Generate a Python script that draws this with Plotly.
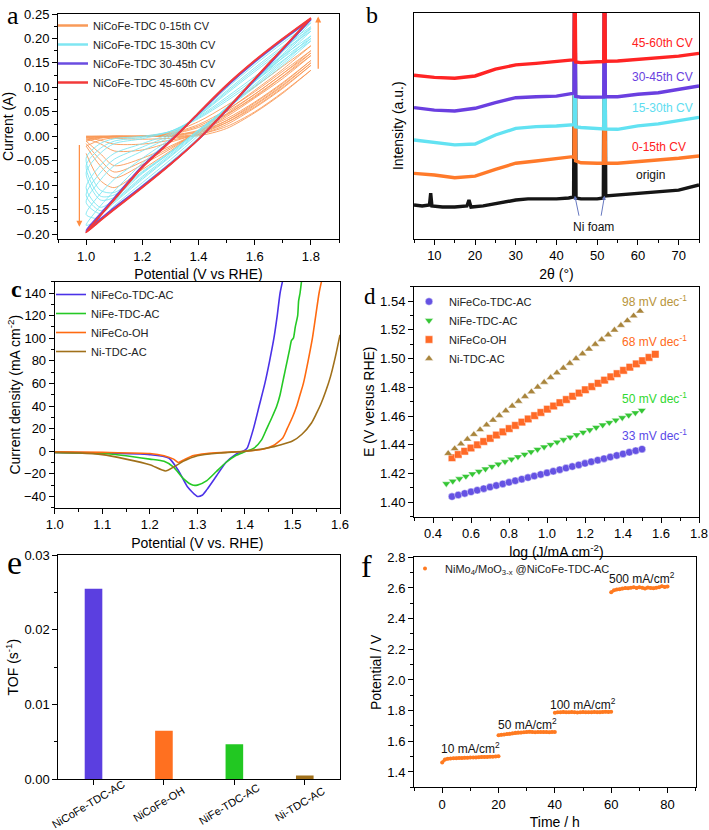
import plotly.graph_objects as go

W, H = 709, 830

# ================= DATA =================
# ---- panel a: CV cycles (current in A) ----
cv_E_fwd = [1.00, 1.05, 1.10, 1.20, 1.30, 1.40, 1.50, 1.60, 1.70, 1.80]
cv_E_back = [1.80, 1.70, 1.60, 1.50, 1.40, 1.30, 1.20, 1.10, 1.05, 1.00]

cv_0_15_fwd = [
    [0.000, 0.000, 0.000, 0.000, 0.000, 0.004, 0.020, 0.050, 0.090, 0.135],
    [-0.001, 0.000, 0.000, 0.000, 0.001, 0.008, 0.028, 0.060, 0.100, 0.145],
    [-0.002, -0.001, 0.000, 0.000, 0.002, 0.010, 0.032, 0.065, 0.105, 0.150],
    [-0.003, -0.001, 0.000, 0.000, 0.002, 0.012, 0.036, 0.070, 0.110, 0.155],
    [-0.006, -0.002, 0.000, 0.000, 0.004, 0.018, 0.045, 0.080, 0.122, 0.165],
    [-0.008, -0.003, -0.001, 0.000, 0.005, 0.021, 0.050, 0.086, 0.128, 0.170],
    [-0.010, -0.004, -0.001, 0.000, 0.006, 0.024, 0.054, 0.091, 0.133, 0.175],
    [-0.020, -0.008, -0.003, 0.000, 0.008, 0.030, 0.063, 0.101, 0.143, 0.185],
]
cv_0_15_back = [
    [0.135, 0.088, 0.048, 0.016, 0.001, 0.000, 0.000, 0.000, 0.000, 0.000],
    [0.145, 0.098, 0.058, 0.024, 0.003, -0.004, -0.006, -0.004, -0.002, -0.001],
    [0.150, 0.103, 0.063, 0.028, 0.004, -0.008, -0.016, -0.016, -0.008, -0.003],
    [0.155, 0.108, 0.068, 0.032, 0.006, -0.012, -0.028, -0.030, -0.015, -0.005],
    [0.165, 0.118, 0.078, 0.040, 0.008, -0.020, -0.045, -0.060, -0.035, -0.010],
    [0.170, 0.123, 0.082, 0.043, 0.009, -0.023, -0.052, -0.073, -0.048, -0.015],
    [0.175, 0.128, 0.086, 0.046, 0.010, -0.026, -0.058, -0.085, -0.060, -0.020],
    [0.185, 0.137, 0.094, 0.052, 0.012, -0.030, -0.068, -0.105, -0.090, -0.035],
]
cv_15_30_fwd = [
    [-0.045, -0.015, -0.005, 0.000, 0.010, 0.036, 0.072, 0.112, 0.155, 0.195],
    [-0.060, -0.025, -0.010, -0.002, 0.010, 0.038, 0.076, 0.117, 0.160, 0.200],
    [-0.075, -0.035, -0.015, -0.005, 0.010, 0.040, 0.080, 0.122, 0.165, 0.205],
    [-0.105, -0.060, -0.035, -0.015, 0.006, 0.042, 0.087, 0.132, 0.175, 0.215],
    [-0.120, -0.075, -0.047, -0.022, 0.003, 0.043, 0.090, 0.136, 0.180, 0.220],
    [-0.135, -0.090, -0.060, -0.030, 0.000, 0.044, 0.093, 0.140, 0.184, 0.224],
    [-0.160, -0.118, -0.088, -0.045, -0.005, 0.045, 0.098, 0.146, 0.191, 0.232],
    [-0.182, -0.143, -0.112, -0.055, -0.008, 0.046, 0.101, 0.150, 0.195, 0.237],
]
cv_15_30_back = [
    [0.195, 0.145, 0.100, 0.056, 0.013, -0.032, -0.072, -0.115, -0.110, -0.045],
    [0.200, 0.149, 0.103, 0.057, 0.012, -0.033, -0.074, -0.120, -0.122, -0.060],
    [0.205, 0.153, 0.106, 0.058, 0.012, -0.034, -0.076, -0.125, -0.130, -0.075],
    [0.215, 0.161, 0.111, 0.059, 0.010, -0.037, -0.082, -0.130, -0.145, -0.105],
    [0.220, 0.165, 0.113, 0.059, 0.008, -0.040, -0.085, -0.133, -0.152, -0.120],
    [0.224, 0.168, 0.114, 0.058, 0.006, -0.042, -0.088, -0.136, -0.158, -0.135],
    [0.232, 0.173, 0.116, 0.057, 0.002, -0.048, -0.095, -0.142, -0.168, -0.160],
    [0.237, 0.176, 0.116, 0.055, -0.003, -0.053, -0.100, -0.146, -0.170, -0.182],
]
cv_30_45_fwd = [
    [-0.192, -0.159, -0.126, -0.061, -0.009, 0.046, 0.102, 0.152, 0.197, 0.239],
    [-0.195, -0.161, -0.128, -0.062, -0.010, 0.047, 0.103, 0.153, 0.198, 0.240],
]
cv_30_45_back = [
    [0.239, 0.177, 0.115, 0.053, -0.006, -0.056, -0.102, -0.146, -0.169, -0.192],
    [0.240, 0.178, 0.116, 0.054, -0.006, -0.057, -0.103, -0.148, -0.171, -0.195],
]
cv_45_60_fwd = [
    [-0.196, -0.162, -0.129, -0.063, -0.010, 0.047, 0.104, 0.154, 0.199, 0.241],
    [-0.197, -0.163, -0.130, -0.064, -0.011, 0.048, 0.105, 0.155, 0.200, 0.242],
]
cv_45_60_back = [
    [0.241, 0.179, 0.117, 0.054, -0.006, -0.057, -0.104, -0.149, -0.172, -0.196],
    [0.242, 0.180, 0.118, 0.055, -0.006, -0.058, -0.105, -0.150, -0.173, -0.197],
]

# ---- panel b: XRD (offset intensities, a.u.) ----
xrd_2theta = [5, 10, 15, 20, 25, 30, 35, 40, 44, 44.3, 44.5, 44.7, 46, 50, 51.6, 51.8, 52.0, 55, 60, 65, 70, 75]
xrd_0_15 = [28.9, 28.2, 27.0, 27.7, 30.7, 33.4, 34.4, 35.6, 36.3, 36.0, 130, 34.5, 33.6, 33.4, 33.4, 130, 33.5, 33.4, 34.1, 35.1, 35.6, 36.6]
xrd_15_30 = [43.7, 42.5, 41.5, 41.9, 45.9, 48.8, 49.6, 49.9, 50.3, 50.5, 130, 49.5, 49.2, 48.8, 48.6, 130, 48.5, 48.4, 49.9, 50.8, 52.2, 53.7]
xrd_30_45 = [58.0, 56.9, 56.5, 57.7, 60.2, 62.4, 62.8, 63.1, 64.3, 64.5, 130, 63.0, 62.6, 62.6, 62.7, 130, 62.8, 62.8, 63.9, 64.6, 66.1, 67.6]
xrd_45_60 = [72.3, 71.4, 71.0, 72.0, 75.0, 76.9, 77.6, 78.3, 79.1, 79.3, 130, 78.2, 77.9, 78.3, 78.4, 130, 78.5, 78.6, 79.4, 80.1, 80.8, 82.0]
xrd_origin_2theta = [5, 7, 8.8, 9.1, 9.4, 12, 15, 18, 18.5, 19, 22, 25, 28, 30, 33, 36, 40, 43, 44.2, 44.5, 44.8,
                     46, 50, 51.5, 51.8, 52.1, 55, 60, 65, 70, 75]
xrd_origin = [14.9, 14.5, 14.9, 20.2, 14.5, 14.0, 14.0, 14.5, 17.1, 14.0, 14.5, 15.4, 16.2, 17.1, 17.6, 17.6, 17.6, 18.0,
              18.5, 130, 18.0, 17.6, 17.6, 18.0, 130, 18.9, 19.3, 19.8, 20.7, 21.5, 23.8]

# ---- panel c: LSV ----
lsv_tdc_E = [1.00, 1.10, 1.20, 1.24, 1.26, 1.28, 1.30, 1.31, 1.32, 1.34, 1.36, 1.38, 1.40, 1.405, 1.418, 1.43,
             1.442, 1.452, 1.461, 1.468, 1.474, 1.479]
lsv_tdc_j = [-1, -1.5, -3, -6, -17, -32, -40, -39, -34, -22, -10, -3, 1, 3, 20, 40, 60, 80, 100, 120, 140, 150]
lsv_nife_E = [1.00, 1.10, 1.15, 1.20, 1.23, 1.25, 1.27, 1.29, 1.30, 1.32, 1.34, 1.36, 1.38, 1.40, 1.42, 1.435,
              1.446, 1.457, 1.467, 1.474, 1.479, 1.484, 1.489, 1.494, 1.498, 1.502, 1.506, 1.511, 1.513, 1.516, 1.519]
lsv_nife_j = [-1, -2, -4, -7, -9, -14, -24, -30, -30, -26, -18, -10, -4, -0.5, 3, 10, 20, 30, 40, 50, 60, 70, 80,
              90, 98, 100, 110, 120, 133, 140, 150]
lsv_oh_E = [1.00, 1.10, 1.20, 1.23, 1.25, 1.26, 1.27, 1.29, 1.32, 1.36, 1.40, 1.44, 1.46, 1.48, 1.489, 1.50, 1.509,
            1.516, 1.523, 1.533, 1.542, 1.549, 1.556, 1.561]
lsv_oh_j = [-0.5, -1, -2, -4, -7, -10, -8, -4, -2, -1, 0, 2, 5, 12, 20, 30, 40, 50, 60, 80, 100, 120, 140, 150]
lsv_ni_E = [1.00, 1.05, 1.10, 1.15, 1.20, 1.233, 1.25, 1.27, 1.30, 1.35, 1.40, 1.45, 1.50, 1.52, 1.54, 1.55, 1.56,
            1.57, 1.58, 1.59, 1.60]
lsv_ni_j = [-1, -1.5, -3, -7, -12, -17.5, -14, -9, -4, -1.5, 0, 3, 9, 15, 25, 33, 42, 53, 66, 83, 103]

# ---- panel d: Tafel ----
tafel_tdc_x = [0.500, 0.533, 0.567, 0.600, 0.633, 0.667, 0.700, 0.733, 0.767, 0.800, 0.833, 0.867, 0.900, 0.933,
               0.967, 1.000, 1.033, 1.067, 1.100, 1.133, 1.167, 1.200, 1.233, 1.267, 1.300, 1.333, 1.367, 1.400,
               1.433, 1.467, 1.500]
tafel_tdc_y = [1.4040, 1.4051, 1.4062, 1.4073, 1.4084, 1.4095, 1.4106, 1.4117, 1.4128, 1.4139, 1.4150, 1.4161,
               1.4172, 1.4183, 1.4194, 1.4205, 1.4216, 1.4227, 1.4238, 1.4249, 1.4260, 1.4271, 1.4282, 1.4293,
               1.4304, 1.4315, 1.4326, 1.4337, 1.4348, 1.4359, 1.4370]
tafel_nife_x = [0.470, 0.504, 0.539, 0.573, 0.607, 0.642, 0.676, 0.710, 0.744, 0.779, 0.813, 0.847, 0.882, 0.916,
                0.950, 0.985, 1.019, 1.053, 1.087, 1.122, 1.156, 1.190, 1.225, 1.259, 1.293, 1.328, 1.362, 1.396,
                1.430, 1.465, 1.499]
tafel_nife_y = [1.4130, 1.4147, 1.4164, 1.4181, 1.4198, 1.4215, 1.4232, 1.4249, 1.4266, 1.4283, 1.4300, 1.4317,
                1.4334, 1.4351, 1.4368, 1.4385, 1.4402, 1.4419, 1.4436, 1.4453, 1.4470, 1.4487, 1.4504, 1.4521,
                1.4538, 1.4555, 1.4572, 1.4589, 1.4606, 1.4623, 1.4640]
tafel_oh_x = [0.500, 0.533, 0.567, 0.600, 0.634, 0.667, 0.701, 0.734, 0.768, 0.801, 0.834, 0.868, 0.901, 0.935,
              0.968, 1.002, 1.035, 1.068, 1.102, 1.135, 1.169, 1.202, 1.236, 1.269, 1.303, 1.336, 1.369, 1.403,
              1.436, 1.470, 1.503, 1.537, 1.570]
tafel_oh_y = [1.4310, 1.4333, 1.4355, 1.4378, 1.4400, 1.4423, 1.4445, 1.4468, 1.4490, 1.4513, 1.4535, 1.4558,
              1.4580, 1.4603, 1.4625, 1.4648, 1.4670, 1.4693, 1.4715, 1.4738, 1.4760, 1.4783, 1.4805, 1.4828,
              1.4850, 1.4873, 1.4895, 1.4918, 1.4940, 1.4963, 1.4985, 1.5008, 1.5030]
tafel_ni_x = [0.480, 0.514, 0.547, 0.581, 0.615, 0.648, 0.682, 0.716, 0.749, 0.783, 0.817, 0.850, 0.884, 0.918,
              0.951, 0.985, 1.019, 1.052, 1.086, 1.120, 1.153, 1.187, 1.221, 1.254, 1.288, 1.322, 1.355, 1.389,
              1.423, 1.456, 1.490]
tafel_ni_y = [1.4340, 1.4373, 1.4406, 1.4439, 1.4472, 1.4505, 1.4538, 1.4571, 1.4604, 1.4637, 1.4670, 1.4703,
              1.4736, 1.4769, 1.4802, 1.4835, 1.4868, 1.4901, 1.4934, 1.4967, 1.5000, 1.5033, 1.5066, 1.5099,
              1.5132, 1.5165, 1.5198, 1.5231, 1.5264, 1.5297, 1.5330]
tafel_slopes = ["98 mV dec<sup>-1</sup>", "68 mV dec<sup>-1</sup>", "50 mV dec<sup>-1</sup>", "33 mV dec<sup>-1</sup>"]

# ---- panel e: TOF ----
tof_categories = ["NiCoFe-TDC-AC", "NiCoFe-OH", "NiFe-TDC-AC", "Ni-TDC-AC"]
tof_values = [0.0255, 0.0065, 0.0047, 0.0005]

# ---- panel f: stability ----
stab_t1 = [0, 1, 2, 3, 4, 5, 6, 7, 8, 9, 10, 11, 12, 13, 14, 15, 16, 17, 18, 19, 20]
stab_v1 = [1.462, 1.482, 1.486, 1.488, 1.489, 1.490, 1.491, 1.491, 1.492, 1.493, 1.494, 1.494, 1.495, 1.496, 1.497,
           1.497, 1.498, 1.499, 1.500, 1.501, 1.502]
stab_t2 = [20, 21, 22, 23, 24, 25, 26, 27, 28, 29, 30, 31, 32, 33, 34, 35, 36, 37, 38, 39, 40]
stab_v2 = [1.640, 1.642, 1.645, 1.647, 1.650, 1.653, 1.655, 1.657, 1.658, 1.659, 1.661, 1.662, 1.660, 1.659, 1.660,
           1.661, 1.660, 1.660, 1.659, 1.660, 1.660]
stab_t3 = [40, 41, 42, 43, 44, 45, 46, 47, 48, 49, 50, 51, 52, 53, 54, 55, 56, 57, 58, 59, 60]
stab_v3 = [1.787, 1.790, 1.790, 1.791, 1.789, 1.790, 1.791, 1.790, 1.788, 1.790, 1.791, 1.790, 1.789, 1.790, 1.791,
           1.790, 1.790, 1.791, 1.792, 1.791, 1.793]
stab_t4 = [60, 61, 62, 63, 64, 65, 66, 67, 68, 69, 70, 71, 72, 73, 74, 75, 76, 77, 78, 79, 80]
stab_v4 = [2.572, 2.585, 2.590, 2.592, 2.597, 2.600, 2.598, 2.602, 2.604, 2.600, 2.605, 2.601, 2.596, 2.603, 2.600,
           2.598, 2.602, 2.604, 2.612, 2.607, 2.610]
stab_labels = ["10 mA/cm<sup>2</sup>", "50 mA/cm<sup>2</sup>", "100 mA/cm<sup>2</sup>", "500 mA/cm<sup>2</sup>"]

# ================= FIGURE =================
FONT = "Arial, Liberation Sans, Helvetica, sans-serif"
SERIF = "Times New Roman, Liberation Serif, serif"

fig = go.Figure()


def px_dom(x0, x1, y0, y1):
    return [x0 / W, x1 / W], [1 - y1 / H, 1 - y0 / H]


# ---- panel a ----
groups_a = [
    ("NiCoFe-TDC 0-15th CV", "#F99A58", cv_0_15_fwd, cv_0_15_back, 0.9),
    ("NiCoFe-TDC 15-30th CV", "#7FE6F2", cv_15_30_fwd, cv_15_30_back, 0.9),
    ("NiCoFe-TDC 30-45th CV", "#6A4CE0", cv_30_45_fwd, cv_30_45_back, 1.6),
    ("NiCoFe-TDC 45-60th CV", "#F23A3A", cv_45_60_fwd, cv_45_60_back, 1.6),
]
for name, col, fwds, backs, lw in groups_a:
    for f, b in zip(fwds, backs):
        fig.add_trace(go.Scatter(x=cv_E_fwd + cv_E_back, y=f + b, mode="lines",
                                 line=dict(color=col, width=lw, shape="spline", smoothing=0.8),
                                 xaxis="x", yaxis="y", showlegend=False, hoverinfo="skip"))
for name, col, fwds, backs, lw in groups_a:
    fig.add_trace(go.Scatter(x=[None], y=[None], mode="lines", name=name,
                             line=dict(color=col, width=2.5), xaxis="x", yaxis="y",
                             legend="legend"))

# ---- panel b ----
xrd_sets = [
    ("origin", "#151515", xrd_origin_2theta, xrd_origin),
    ("0-15th CV", "#FF7A2A", xrd_2theta, xrd_0_15),
    ("15-30th CV", "#62E2F2", xrd_2theta, xrd_15_30),
    ("30-45th CV", "#6A3FE0", xrd_2theta, xrd_30_45),
    ("45-60th CV", "#FF2424", xrd_2theta, xrd_45_60),
]
for name, col, xs, ys in xrd_sets:
    fig.add_trace(go.Scatter(x=xs, y=ys, mode="lines", line=dict(color=col, width=3.4),
                             xaxis="x2", yaxis="y2", showlegend=False, name=name))

# ---- panel c ----
lsv_sets = [
    ("NiFeCo-TDC-AC", "#4B32E8", lsv_tdc_E, lsv_tdc_j),
    ("NiFe-TDC-AC", "#25C925", lsv_nife_E, lsv_nife_j),
    ("NiFeCo-OH", "#FF6A10", lsv_oh_E, lsv_oh_j),
    ("Ni-TDC-AC", "#A0701A", lsv_ni_E, lsv_ni_j),
]
for name, col, xs, ys in lsv_sets:
    fig.add_trace(go.Scatter(x=xs, y=ys, mode="lines", name=name,
                             line=dict(color=col, width=1.6, shape="spline", smoothing=0.6),
                             xaxis="x3", yaxis="y3", legend="legend2"))

# ---- panel d ----
tafel_sets = [
    ("NiFeCo-TDC-AC", "#5540E0", "circle", tafel_tdc_x, tafel_tdc_y),
    ("NiFe-TDC-AC", "#20C020", "triangle-down", tafel_nife_x, tafel_nife_y),
    ("NiFeCo-OH", "#FF5A10", "square", tafel_oh_x, tafel_oh_y),
    ("Ni-TDC-AC", "#A07828", "triangle-up", tafel_ni_x, tafel_ni_y),
]
for name, col, sym, xs, ys in tafel_sets:
    fig.add_trace(go.Scatter(x=xs, y=ys, mode="markers", name=name,
                             marker=dict(symbol=sym, size=7.5, color=col, opacity=0.9,
                                         line=dict(color="rgba(255,255,255,0.6)", width=0.8)),
                             xaxis="x4", yaxis="y4", legend="legend3"))
slope_cols = ["#B8943A", "#FF6A20", "#30D830", "#5A4AE8"]
slope_y = [1.5400, 1.5122, 1.4727, 1.4468]
for txt, c, yv in zip(tafel_slopes, slope_cols, slope_y):
    fig.add_annotation(x=1.746, y=yv, xref="x4", yref="y4", text=txt, showarrow=False,
                       xanchor="right", yanchor="middle", font=dict(family=FONT, size=12, color=c))

# ---- panel e ----
fig.add_trace(go.Bar(x=tof_categories, y=tof_values, width=0.25,
                     marker=dict(color=["#5B3FE0", "#FF7020", "#22C822", "#A0701A"], line=dict(width=0)),
                     xaxis="x5", yaxis="y5", showlegend=False))
# rotated category labels (centred under their ticks, as in the original)
for cat in tof_categories:
    fig.add_annotation(x=cat, y=1 - 804 / H, xref="x5", yref="paper", text=cat, showarrow=False,
                       textangle=-31, xshift=-5, xanchor="center", yanchor="middle",
                       font=dict(family=FONT, size=11, color="black"))

# ---- panel f ----
stab_t = stab_t1 + [None] + stab_t2 + [None] + stab_t3 + [None] + stab_t4
stab_v = stab_v1 + [None] + stab_v2 + [None] + stab_v3 + [None] + stab_v4
fig.add_trace(go.Scatter(x=stab_t, y=stab_v, mode="lines", line=dict(color="#FF8A30", width=3),
                         xaxis="x6", yaxis="y6", showlegend=False, hoverinfo="skip"))
fig.add_trace(go.Scatter(x=stab_t, y=stab_v, mode="markers",
                         name="NiMo<sub>4</sub>/MoO<sub>3-x</sub> @NiCoFe-TDC-AC",
                         marker=dict(color="#FF7A20", size=4),
                         xaxis="x6", yaxis="y6", legend="legend4"))
lab_x = [10, 30.2, 50, 70.9]
lab_y = [1.557, 1.715, 1.846, 2.666]
for txt, xv, yv in zip(stab_labels, lab_x, lab_y):
    fig.add_annotation(x=xv, y=yv, xref="x6", yref="y6", text=txt, showarrow=False,
                       font=dict(family=FONT, size=12, color="#111"))


# ---- axes ----
def axis(dom, anchor, rng, title, dtick=None, tick0=None, fmt=None, minor_dtick=None,
         standoff=6, showticklabels=True, ticks="outside", **kw):
    d = dict(domain=dom, anchor=anchor, range=rng, showline=True, linecolor="black", linewidth=1,
             mirror=True, ticks=ticks, ticklen=5, tickwidth=1, tickcolor="black", showgrid=False,
             zeroline=False, automargin=False, tickfont=dict(family=FONT, size=13, color="black"),
             title=dict(text=title, font=dict(family=FONT, size=14, color="black"), standoff=standoff),
             showticklabels=showticklabels)
    if dtick is not None:
        d["dtick"] = dtick
        d["tickmode"] = "linear"
    if tick0 is not None:
        d["tick0"] = tick0
    if fmt:
        d["tickformat"] = fmt
    if minor_dtick is not None:
        d["minor"] = dict(dtick=minor_dtick, ticks="outside", ticklen=3, tickcolor="black", showgrid=False)
    d.update(kw)
    return d


xa, ya = px_dom(58, 339, 14, 239)
xb, yb = px_dom(414, 699, 12.7, 238.7)
xc, yc = px_dom(54.7, 340, 281.7, 507.7)
xd, yd = px_dom(414, 699, 286.7, 516.7)
xe, ye = px_dom(58.3, 340, 555, 779.3)
xf, yf = px_dom(414, 695.7, 557.3, 787.3)

LEGFONT = dict(family=FONT, size=11, color="#222")
layout = dict(
    width=W, height=H, margin=dict(l=0, r=0, t=0, b=0, autoexpand=False),
    template="none",
    paper_bgcolor="white", plot_bgcolor="white",
    font=dict(family=FONT, color="black"),
    xaxis=axis(xa, "y", [0.9, 1.9], "Potential (V vs RHE)", 0.2, 1.0, ".1f", 0.1),
    yaxis=axis(ya, "x", [-0.21, 0.25], "Current (A)", 0.05, -0.2, ".2f", 0.025, standoff=0),
    xaxis2=axis(xb, "y2", [5, 75], "2θ (°)", 10, 10, None, 5),
    yaxis2=axis(yb, "x2", [0, 100], "Intensity (a.u.)", showticklabels=False, ticks="", standoff=6),
    xaxis3=axis(xc, "y3", [1.0, 1.6], "Potential (V vs. RHE)", 0.1, 1.0, ".1f", 0.05),
    yaxis3=axis(yc, "x3", [-50, 150], "Current density (mA cm<sup>-2</sup>)", 20, -40, None, 10, standoff=0),
    xaxis4=axis(xd, "y4", [0.3, 1.8], "log (J/mA cm<sup>-2</sup>)", 0.2, 0.4, ".1f", 0.1),
    yaxis4=axis(yd, "x4", [1.39, 1.55], "E (V versus RHE)", 0.02, 1.4, ".2f", 0.01, standoff=2),
    xaxis5=dict(domain=xe, anchor="y5", range=[-0.5, 3.5], type="category", showline=True,
                linecolor="black", linewidth=1, mirror=True, ticks="outside", ticklen=5,
                tickcolor="black", showgrid=False, zeroline=False, automargin=False,
                showticklabels=False),
    yaxis5=axis(ye, "x5", [0, 0.03], "TOF (s<sup>-1</sup>)", 0.01, 0, ".2f", 0.005, standoff=2),
    xaxis6=axis(xf, "y6", [-10, 90], "Time / h", 20, 0, None, 10),
    yaxis6=axis(yf, "x6", [1.3, 2.8], "Potential / V", 0.2, 1.4, ".1f", 0.1, standoff=2),
    legend=dict(x=53 / W, y=1 - 11 / H, xanchor="left", yanchor="top", bgcolor="rgba(0,0,0,0)",
                font=LEGFONT, itemwidth=30),
    legend2=dict(x=51 / W, y=1 - 280 / H, xanchor="left", yanchor="top", bgcolor="rgba(0,0,0,0)",
                 font=LEGFONT, itemwidth=30),
    legend3=dict(x=409 / W, y=1 - 287 / H, xanchor="left", yanchor="top", bgcolor="rgba(0,0,0,0)",
                 font=LEGFONT, itemwidth=30),
    legend4=dict(x=405 / W, y=1 - 554 / H, xanchor="left", yanchor="top", bgcolor="rgba(0,0,0,0)",
                 font=LEGFONT, itemwidth=30),
)
fig.update_layout(**layout)

# panel a arrows
fig.add_annotation(x=1.826, y=0.245, ax=1.826, ay=0.135, xref="x", yref="y", axref="x", ayref="y",
                   showarrow=True, arrowhead=2, arrowsize=1, arrowwidth=1.2, arrowcolor="#FF8C40", text="")
fig.add_annotation(x=0.976, y=-0.185, ax=0.976, ay=-0.015, xref="x", yref="y", axref="x", ayref="y",
                   showarrow=True, arrowhead=2, arrowsize=1, arrowwidth=1.2, arrowcolor="#FF8C40", text="")

# panel b labels
b_labels = [("45-60th CV", "#FF2020", 74.0, 86.6, "right"),
            ("30-45th CV", "#6A3FE0", 74.0, 71.5, "right"),
            ("15-30th CV", "#5EDDF0", 74.0, 57.8, "right"),
            ("0-15th CV", "#FF2020", 72.3, 40.6, "right"),
            ("origin", "#111111", 63.0, 28.2, "center"),
            ("Ni foam", "#111111", 49.0, 5.2, "center")]
for txt, c, xv, yv, anc in b_labels:
    fig.add_annotation(x=xv, y=yv, xref="x2", yref="y2", text=txt, showarrow=False, xanchor=anc,
                       font=dict(family=FONT, size=12, color=c))
fig.add_annotation(x=44.5, y=19, ax=45.6, ay=9.5, xref="x2", yref="y2", axref="x2", ayref="y2",
                   showarrow=True, arrowhead=2, arrowsize=0.8, arrowwidth=1, arrowcolor="#6678C0", text="")
fig.add_annotation(x=51.8, y=19, ax=50.9, ay=9.5, xref="x2", yref="y2", axref="x2", ayref="y2",
                   showarrow=True, arrowhead=2, arrowsize=0.8, arrowwidth=1, arrowcolor="#6678C0", text="")

# panel letters
letters = [("a", 5, 15, 26, False), ("b", 364, 15, 24, False), ("c", 9, 289, 24, True),
           ("d", 362, 296, 23, False), ("e", 5, 562, 34, False), ("f", 359, 566, 32, False)]
for t, xp, yp, sz, bold in letters:
    fig.add_annotation(x=xp / W, y=1 - yp / H, xref="paper", yref="paper",
                       text=f"<b>{t}</b>" if bold else t, showarrow=False, xanchor="left", yanchor="middle",
                       font=dict(family=SERIF, size=sz, color="black"))

fig.write_html("out.html", config={"displayModeBar": False},
               post_script="document.body.style.margin='0';")
